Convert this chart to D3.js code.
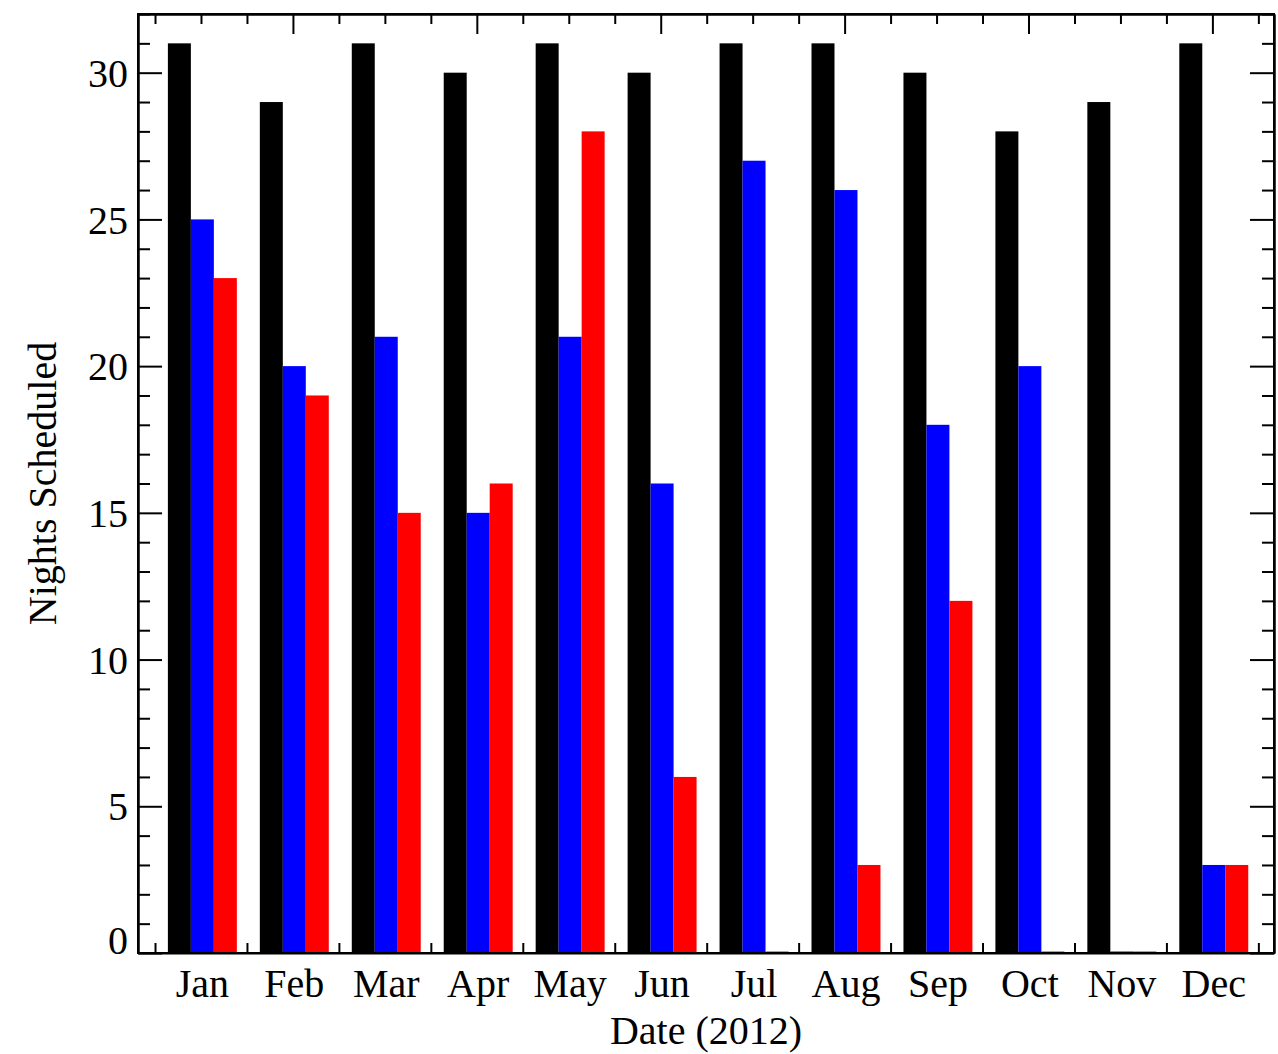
<!DOCTYPE html>
<html>
<head>
<meta charset="utf-8">
<script src="https://d3js.org/d3.v7.min.js"></script>
<style>
  body { margin: 0; background: #fff; }
  text { font-family: "Liberation Serif", "DejaVu Serif", serif; fill: #000; }
  .axis path, .axis line { stroke: #000; stroke-width: 2; }
</style>
</head>
<body>
<script>
// data
var months = ["Jan","Feb","Mar","Apr","May","Jun","Jul","Aug","Sep","Oct","Nov","Dec"];
var nightsTotal = [31,29,31,30,31,30,31,31,30,28,29,31];
var nightsBlue  = [25,20,21,15,21,16,27,26,18,20,0,3];
var nightsRed   = [23,19,15,16,28,6,0,3,12,0,0,3];
var seriesColors = ["#000000","#0000ff","#ff0000"];
var yMajorTicks = [0,5,10,15,20,25,30];

var W = 1278, H = 1054;
var pLeft = 138, pRight = 1274, pTop = 14, pBottom = 953;

var svg = d3.select("body").append("svg")
    .attr("width", W).attr("height", H);

var x = d3.scaleLinear().domain([-0.185, 12.17]).range([pLeft, pRight]);
var y = d3.scaleLinear().domain([0, 32]).range([pBottom, pTop]);

var series = [nightsTotal, nightsBlue, nightsRed];
var barW = 0.25, groupOff = 0.14;

// bars (zero values show as a thin line on the axis)
series.forEach(function(vals, s) {
  svg.append("g").selectAll("rect")
    .data(vals)
    .enter().append("rect")
    .attr("x", function(d, i) { return x(i + groupOff + s * barW); })
    .attr("width", function(d, i) { return x(i + groupOff + (s + 1) * barW) - x(i + groupOff + s * barW); })
    .attr("y", function(d) { return d > 0 ? y(d) : y(0) - 1.5; })
    .attr("height", function(d) { return d > 0 ? y(0) - y(d) : 1.5; })
    .attr("fill", seriesColors[s]);
});

// y axes: minor every 1, major every 5
var yMinor = d3.range(0, 33, 1).filter(function(v) { return v % 5 !== 0; });

svg.append("g").attr("class", "axis")
  .attr("transform", "translate(" + pLeft + ",0)")
  .call(d3.axisLeft(y).tickValues(yMinor).tickSizeInner(-12).tickSizeOuter(0).tickFormat(""));
var yl = svg.append("g").attr("class", "axis")
  .attr("transform", "translate(" + pLeft + ",0)")
  .call(d3.axisLeft(y).tickValues(yMajorTicks).tickSizeInner(-24).tickSizeOuter(0).tickPadding(10).tickFormat(d3.format("d")));
yl.selectAll("text").style("font-size", "40px").attr("dy", "0.34em");
yl.selectAll("text").filter(function(d) { return d === 0; }).attr("dy", "0.0em");

svg.append("g").attr("class", "axis")
  .attr("transform", "translate(" + pRight + ",0)")
  .call(d3.axisRight(y).tickValues(yMinor).tickSizeInner(-12).tickSizeOuter(0).tickFormat(""));
svg.append("g").attr("class", "axis")
  .attr("transform", "translate(" + pRight + ",0)")
  .call(d3.axisRight(y).tickValues(yMajorTicks).tickSizeInner(-24).tickSizeOuter(0).tickFormat(""));

// x axes
svg.append("g").attr("class", "axis")
  .attr("transform", "translate(0," + pBottom + ")")
  .call(d3.axisBottom(x).tickValues(d3.range(0, 13)).tickSizeInner(-10).tickSizeOuter(0).tickFormat(""));

var topTicks = d3.range(0, 12.01, 0.5);
var topMajor = topTicks.filter(function(v) { return (v - 1.5) % 2 === 0; });
var topMinor = topTicks.filter(function(v) { return (v - 1.5) % 2 !== 0; });
svg.append("g").attr("class", "axis")
  .attr("transform", "translate(0," + pTop + ")")
  .call(d3.axisTop(x).tickValues(topMinor).tickSizeInner(-10).tickSizeOuter(0).tickFormat(""));
svg.append("g").attr("class", "axis")
  .attr("transform", "translate(0," + pTop + ")")
  .call(d3.axisTop(x).tickValues(topMajor).tickSizeInner(-20).tickSizeOuter(0).tickFormat(""));

// frame
svg.append("rect")
  .attr("x", pLeft).attr("y", pTop)
  .attr("width", pRight - pLeft).attr("height", pBottom - pTop)
  .attr("fill", "none").attr("stroke", "#000").attr("stroke-width", 2);

// month labels
svg.append("g").selectAll("text")
  .data(months)
  .enter().append("text")
  .attr("x", function(d, i) { return x(i + groupOff + 1.5 * barW); })
  .attr("y", 997)
  .attr("text-anchor", "middle")
  .style("font-size", "40px")
  .text(function(d) { return d; });

// axis titles
svg.append("text")
  .attr("x", (pLeft + pRight) / 2)
  .attr("y", 1044)
  .attr("text-anchor", "middle")
  .style("font-size", "40px")
  .text("Date (2012)");

svg.append("text")
  .attr("transform", "translate(56," + ((pTop + pBottom) / 2) + ") rotate(-90)")
  .attr("text-anchor", "middle")
  .style("font-size", "40px")
  .text("Nights Scheduled");
</script>
</body>
</html>
